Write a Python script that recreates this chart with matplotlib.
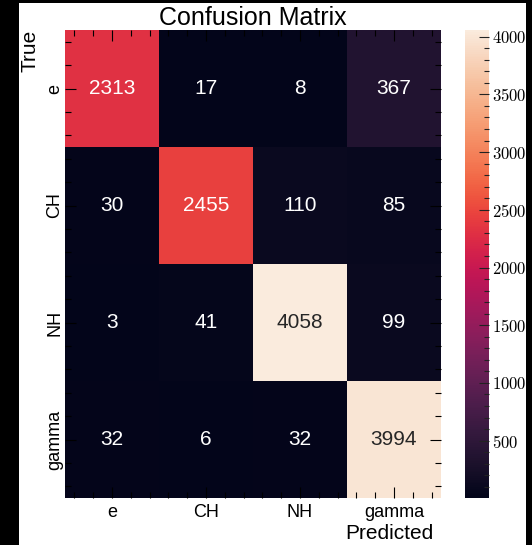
import matplotlib
matplotlib.use("Agg")
import matplotlib.pyplot as plt
import numpy as np
import seaborn as sns
from matplotlib.ticker import FixedLocator, MultipleLocator
from matplotlib.patches import Rectangle

labels = ["e", "CH", "NH", "gamma"]
row_e = [2313, 17, 8, 367]
row_ch = [30, 2455, 110, 85]
row_nh = [3, 41, 4058, 99]
row_gamma = [32, 6, 32, 3994]
cbar_ticks = [500, 1000, 1500, 2000, 2500, 3000, 3500, 4000]

plt.rcParams['font.family'] = ['Liberation Sans', 'DejaVu Sans']
plt.rcParams['mathtext.fontset'] = 'cm'

W, H = 532, 545
fig = plt.figure(figsize=(W / 100, H / 100), dpi=100)
fig.patch.set_facecolor("white")
ax = fig.add_axes([65 / W, 1 - 498 / H, 376 / W, 468 / H])
cax = fig.add_axes([465 / W, 1 - 498 / H, 24 / W, 468 / H])

cm = np.array([row_e, row_ch, row_nh, row_gamma])
sns.heatmap(cm, annot=True, fmt="d", cmap="rocket", ax=ax, cbar_ax=cax,
            annot_kws={"size": 15}, xticklabels=labels, yticklabels=labels)

n = len(labels)
centers = np.arange(n) + 0.5
minor = [k + f for k in range(n) for f in (0.1, 0.3, 0.7, 0.9)]
ax.set_xticks(centers)
ax.set_yticks(centers)
ax.set_xticklabels(labels, fontsize=13, rotation=0)
ax.set_yticklabels(labels, fontsize=13, rotation=90, va="center")
ax.xaxis.set_minor_locator(FixedLocator(minor))
ax.yaxis.set_minor_locator(FixedLocator(minor))
ax.tick_params(which="both", direction="in", top=True, right=True,
               bottom=True, left=True, color="black", width=0.8)
ax.tick_params(which="major", length=8)
ax.tick_params(which="minor", length=4)
ax.tick_params(axis="x", which="major", pad=4)
ax.tick_params(axis="y", which="major", pad=1)

ax.set_title("Confusion Matrix", fontsize=18, pad=3)
ax.set_xlabel("Predicted", fontsize=15, loc="right")
ax.xaxis.set_label_coords((434 - 65) / 376, (498 - 524) / 468)
ax.set_ylabel("True", fontsize=15, loc="top")
ax.yaxis.set_label_coords((39 - 65) / 376, 1.0)

cb = ax.collections[0].colorbar
cb.outline.set_visible(False)
cb.set_ticks(cbar_ticks)
cb.set_ticklabels([f"${v}$" for v in cbar_ticks])
cb.ax.yaxis.set_minor_locator(MultipleLocator(100))
cb.ax.tick_params(which="both", direction="in", right=True, left=False,
                  color="#222222", width=0.8, labelsize=12, pad=2)
cb.ax.tick_params(which="major", length=7)
cb.ax.tick_params(which="minor", length=3.5)

for r in [(0, 0, 19 / W, 1), (0, 1 - 3 / H, 1, 3 / H), (526 / W, 0, 6 / W, 1)]:
    fig.patches.append(Rectangle((r[0], r[1]), r[2], r[3], transform=fig.transFigure,
                                 facecolor="black", edgecolor="none", zorder=10))

fig.savefig("out.png", dpi=100)
